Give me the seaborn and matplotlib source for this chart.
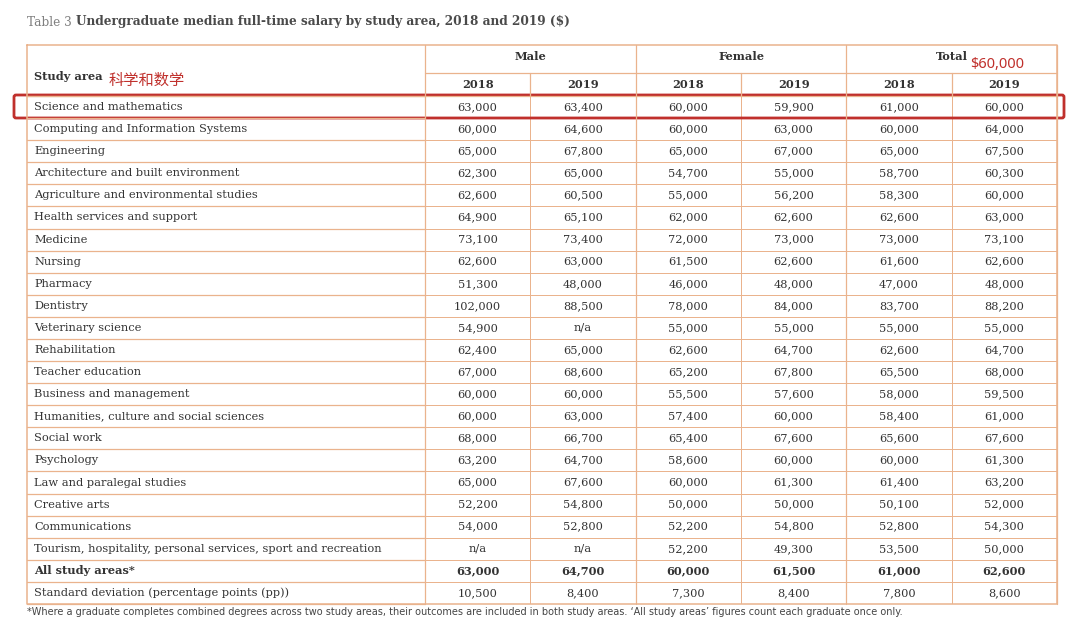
import numpy as np
import pandas as pd
import matplotlib
matplotlib.use("Agg")
import matplotlib.pyplot as plt
from matplotlib.colors import ListedColormap
from matplotlib.patches import FancyBboxPatch
import seaborn as sns

# ─────────────────────────────────────────────
# DATA
# ─────────────────────────────────────────────
study_areas = [
    "Science and mathematics",
    "Computing and Information Systems",
    "Engineering",
    "Architecture and built environment",
    "Agriculture and environmental studies",
    "Health services and support",
    "Medicine",
    "Nursing",
    "Pharmacy",
    "Dentistry",
    "Veterinary science",
    "Rehabilitation",
    "Teacher education",
    "Business and management",
    "Humanities, culture and social sciences",
    "Social work",
    "Psychology",
    "Law and paralegal studies",
    "Creative arts",
    "Communications",
    "Tourism, hospitality, personal services, sport and recreation",
    "All study areas*",
    "Standard deviation (percentage points (pp))",
]
male_2018 = [63000, 60000, 65000, 62300, 62600, 64900, 73100, 62600, 51300, 102000,
             54900, 62400, 67000, 60000, 60000, 68000, 63200, 65000, 52200, 54000,
             None, 63000, 10500]
male_2019 = [63400, 64600, 67800, 65000, 60500, 65100, 73400, 63000, 48000, 88500,
             None, 65000, 68600, 60000, 63000, 66700, 64700, 67600, 54800, 52800,
             None, 64700, 8400]
female_2018 = [60000, 60000, 65000, 54700, 55000, 62000, 72000, 61500, 46000, 78000,
               55000, 62600, 65200, 55500, 57400, 65400, 58600, 60000, 50000, 52200,
               52200, 60000, 7300]
female_2019 = [59900, 63000, 67000, 55000, 56200, 62600, 73000, 62600, 48000, 84000,
               55000, 64700, 67800, 57600, 60000, 67600, 60000, 61300, 50000, 54800,
               49300, 61500, 8400]
total_2018 = [61000, 60000, 65000, 58700, 58300, 62600, 73000, 61600, 47000, 83700,
              55000, 62600, 65500, 58000, 58400, 65600, 60000, 61400, 50100, 52800,
              53500, 61000, 7800]
total_2019 = [60000, 64000, 67500, 60300, 60000, 63000, 73100, 62600, 48000, 88200,
              55000, 64700, 68000, 59500, 61000, 67600, 61300, 63200, 52000, 54300,
              50000, 62600, 8600]
groups = ["Male", "Female", "Total"]
years = ["2018", "2019"]

title_prefix = "Table 3 "
title_main = "Undergraduate median full-time salary by study area, 2018 and 2019 ($)"
footnote = ("*Where a graduate completes combined degrees across two study areas, their outcomes "
            "are included in both study areas. \u2018All study areas\u2019 figures count each "
            "graduate once only.")
note_cn = "科学和数学"
note_value = "$60,000"

# ─────────────────────────────────────────────
# STYLE
# ─────────────────────────────────────────────
sns.set_theme(style="white")
plt.rcParams["font.family"] = ["DejaVu Serif", "Noto Sans CJK SC"]

W, H = 1080, 642
LINE = "#EAB38D"
TXT = "#333333"
RED = "#C0302C"
BODY_FS = 8.2

X0, X1 = 27, 1057          # table left/right
XS = 425                   # study area column right edge
Y_TOP, Y_MID, Y_HEAD, Y_BOT = 45, 73, 96, 604

values = pd.DataFrame({
    "m18": male_2018, "m19": male_2019,
    "f18": female_2018, "f19": female_2019,
    "t18": total_2018, "t19": total_2019,
}, index=study_areas)
labels = values.map(lambda v: "n/a" if pd.isna(v) else f"{int(v):,}")

fig = plt.figure(figsize=(W / 100, H / 100), dpi=100)
fig.patch.set_facecolor("white")

# body cells via seaborn heatmap (plain white cells, orange grid)
hx = fig.add_axes([XS / W, 1 - Y_BOT / H, (X1 - XS) / W, (Y_BOT - Y_HEAD) / H])
sns.heatmap(np.zeros(labels.shape), ax=hx, cmap=ListedColormap(["white"]), cbar=False,
            annot=labels.values, fmt="", linewidths=0.6, linecolor=LINE,
            annot_kws={"fontsize": BODY_FS, "color": TXT})
hx.set_xticks([])
hx.set_yticks([])
n_rows = len(study_areas)
for t in hx.texts:
    x, y = t.get_position()
    if int(y) == n_rows - 2:
        t.set_fontweight("bold")

# overlay axes in pixel coordinates
ax = fig.add_axes([0, 0, 1, 1], facecolor="none")
ax.set_xlim(0, W)
ax.set_ylim(H, 0)
ax.axis("off")

row_h = (Y_BOT - Y_HEAD) / n_rows
col_w = (X1 - XS) / 6

# grid lines for header and study-area column
for i in range(n_rows + 1):
    yy = Y_HEAD + i * row_h
    ax.plot([X0, XS], [yy, yy], color=LINE, lw=0.9)
ax.plot([XS, X1], [Y_MID, Y_MID], color=LINE, lw=0.9)
ax.plot([X0, X1], [Y_HEAD, Y_HEAD], color=LINE, lw=0.9)
for g in range(4):
    xx = XS + g * 2 * col_w
    ax.plot([xx, xx], [Y_TOP, Y_BOT], color=LINE, lw=0.9)
for g in range(3):
    xx = XS + (2 * g + 1) * col_w
    ax.plot([xx, xx], [Y_MID, Y_HEAD], color=LINE, lw=0.9)
ax.plot([X0, X1, X1, X0, X0], [Y_TOP, Y_TOP, Y_BOT, Y_BOT, Y_TOP], color=LINE, lw=1.1)

# header text
ax.text(34, 76, "Study area", fontsize=BODY_FS, fontweight="bold", color=TXT,
        va="center", ha="left")
for g, name in enumerate(groups):
    ax.text(XS + (2 * g + 1) * col_w, 57, name, fontsize=BODY_FS, fontweight="bold",
            color=TXT, ha="center", va="center")
    for k, yr in enumerate(years):
        ax.text(XS + (2 * g + k + 0.5) * col_w, 85, yr, fontsize=BODY_FS,
                fontweight="bold", color=TXT, ha="center", va="center")

# study area names
for i, name in enumerate(study_areas):
    ax.text(34, Y_HEAD + (i + 0.5) * row_h, name, fontsize=BODY_FS, color=TXT,
            ha="left", va="center",
            fontweight="bold" if i == n_rows - 2 else "normal")

# title
t1 = ax.text(27, 22, title_prefix, fontsize=8.7, color="#808080", ha="left", va="center")
ax.annotate(title_main, xy=(1, 0.5), xycoords=t1, fontsize=8.7, fontweight="bold",
            color="#4a4a4a", ha="left", va="center")

# footnote
ax.text(27, 612, footnote, fontsize=7.0, color="#444444", ha="left", va="center",
        family="DejaVu Sans")

# red highlight
box = FancyBboxPatch((14, 95), 1050, 23, boxstyle="round,pad=0,rounding_size=2",
                     fill=False, edgecolor=RED, lw=2.0)
ax.add_patch(box)
ax.text(109, 80, note_cn, fontsize=11, color=RED, ha="left", va="center",
        family=["Noto Sans CJK SC", "DejaVu Sans"])
ax.text(970, 64, note_value, fontsize=10.5, color=RED, ha="left", va="center",
        family=["Noto Sans", "DejaVu Sans"])

fig.savefig("out.png", dpi=100, facecolor="white")
plt.close(fig)
